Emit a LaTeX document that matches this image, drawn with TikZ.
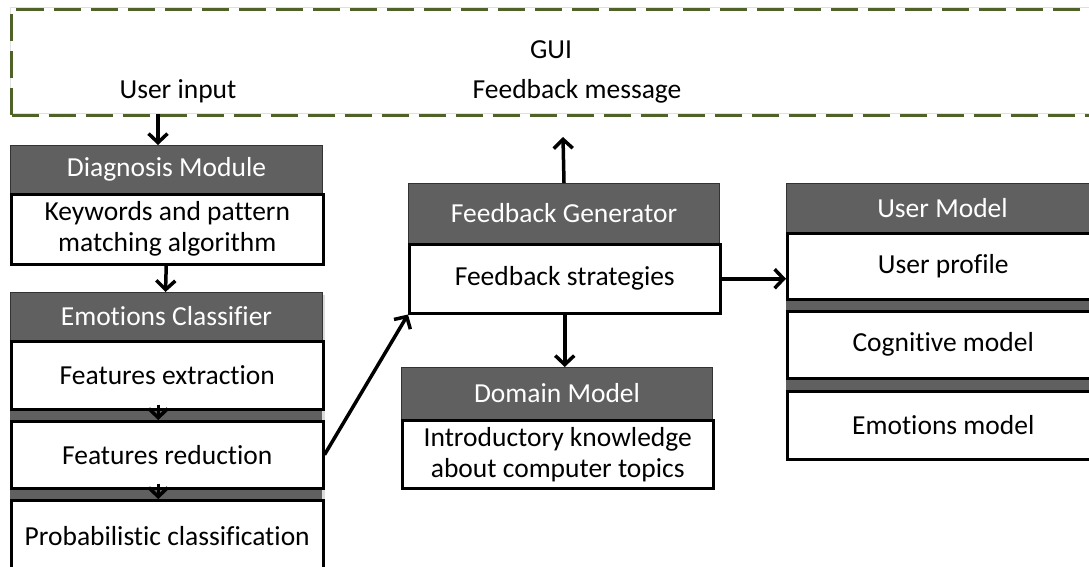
\documentclass[tikz,border=0pt]{standalone}
\usepackage{fontspec}
\setmainfont{Carlito}[Ligatures=NoCommon]
\usetikzlibrary{arrows.meta}
\definecolor{hdrgray}{RGB}{96,96,96}
\definecolor{guiolive}{RGB}{79,98,40}
\begin{document}
\begin{tikzpicture}[x=1pt,y=-1pt,
  txt/.style={font=\fontsize{27.5}{31}\selectfont, inner sep=0pt},
  hdr/.style={txt, fill=hdrgray, draw=black!80, line width=1pt, text=white, anchor=north west, minimum width=312pt},
  body/.style={txt, fill=white, draw=black, line width=2.5pt, anchor=north west, minimum width=312pt, align=center},
  conn/.style={draw=black, line width=3.5pt, -{Straight Barb[length=9pt,width=19pt,line width=3.5pt]}},
  shade/.style={fill=black!14},
  guibox/.style={draw=guiolive, line width=3pt, dash pattern=on 27pt off 10pt, anchor=north west, inner sep=0pt}
]
\clip (0,0) rectangle (1089,567);
% GUI
\draw[black!12, line width=1pt] (10,8) -- (1100,8) (10,8) -- (10,114) -- (1100,114);
\node[guibox, minimum width=1110pt, minimum height=106pt] (gui) at (10,8) {};
\node[txt] (guil) at (551,50) {GUI};
\node[txt] (uinl) at (178,91) {User input};
\node[txt] (fbml) at (577,91) {Feedback message};
\coordinate (uin) at (158,114);
\coordinate (fbm) at (563,137);

% shadows
\fill[shade] (12,196) rectangle (325,266);
\fill[shade] (12,295) rectangle (325,570);
\fill[shade] (410,246) rectangle (722,315);
\fill[shade] (403,422) rectangle (715,490);
\fill[shade] (788,186) rectangle (1100,461);

% Diagnosis module
\node[hdr, minimum height=48pt] (dmh) at (10,145) {Diagnosis Module};
\node[body, minimum height=70pt] (dmb) at (10,193) {Keywords and pattern\\matching algorithm};

% Emotions classifier
\fill[hdrgray] (10,292) rectangle (322,570);
\node[hdr, minimum height=48pt] (ech) at (10,292) {Emotions Classifier};
\node[body, minimum height=68pt] (fe) at (10,340) {Features extraction};
\node[body, minimum height=67pt] (fr) at (10,420) {Features reduction};
\node[body, minimum height=72pt] (pc) at (10,499) {Probabilistic classification};

% Feedback generator
\node[hdr, minimum width=311pt, minimum height=60pt] (fgh) at (408,183) {Feedback Generator};
\node[body, minimum width=311pt, minimum height=69pt] (fgb) at (408,243) {Feedback strategies};

% Domain model
\node[hdr, minimum width=311pt, minimum height=52pt] (dmoh) at (401,367) {Domain Model};
\node[body, minimum width=311pt, minimum height=68pt] (dmob) at (401,419) {Introductory knowledge\\about computer topics};

% User model
\fill[hdrgray] (786,183) rectangle (1098,458);
\node[hdr, minimum height=49pt] (umh) at (786,183) {User Model};
\node[body, minimum height=66pt] (up) at (786,232) {User profile};
\node[body, minimum height=67pt] (cm) at (786,310) {Cognitive model};
\node[body, minimum height=68pt] (em) at (786,390) {Emotions model};

% connectors
\draw[conn] (uin) -- (uin |- dmh.north);
\draw[conn] ([xshift=-1pt]dmb.south) -- ([xshift=-1pt]ech.north);
\draw[conn] ([xshift=-9pt,yshift=6pt]fe.south) -- ([xshift=-9pt]fr.north);
\draw[conn] ([xshift=-9pt,yshift=6pt]fr.south) -- ([xshift=-9pt]pc.north);
\draw[conn] (fr.east) -- (fgb.south west);
\draw[conn] (fgh.north) -- (fbm);
\draw[conn] (fgb.east) -- (fgb.east -| up.west);
\draw[conn] (fgb.south) -- (fgb.south |- dmoh.north);
\end{tikzpicture}
\end{document}
